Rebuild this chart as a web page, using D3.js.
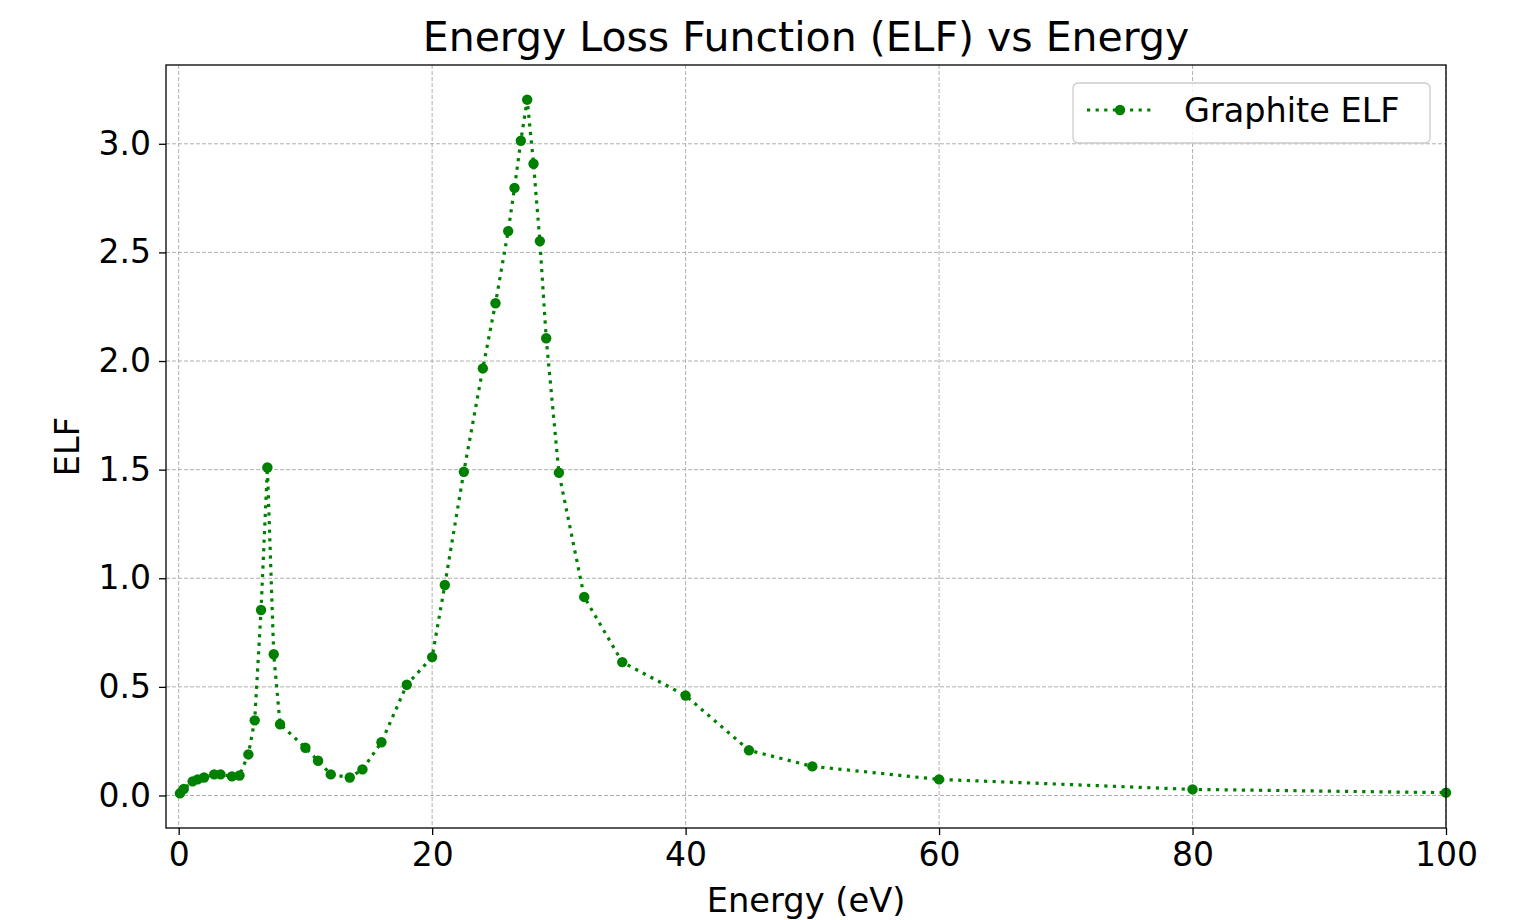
<!DOCTYPE html>
<html>
<head>
<meta charset="utf-8">
<script src="https://cdn.jsdelivr.net/npm/d3@7"></script>
<style>
  body { margin: 0; background: #fff; }
  svg { font-family: "DejaVu Sans", sans-serif; }
</style>
</head>
<body>
<svg id="chart" width="1536" height="920"></svg>
<script>
// energy in eV and loss function values
let energy = [0.1, 0.4, 1.1, 1.5, 2, 2.8, 3.3, 4.2, 4.8, 5.5, 6, 6.5, 7, 7.5, 8,
              10, 11, 12, 13.5, 14.5, 16, 18, 20, 21, 22.5, 24, 25, 26, 26.5, 27,
              27.5, 28, 28.5, 29, 30, 32, 35, 40, 45, 50, 60, 80, 100]
let elf = [0.01, 0.03, 0.065, 0.074, 0.083, 0.097, 0.097, 0.088, 0.092, 0.189, 0.346, 0.854, 1.51, 0.65, 0.328,
           0.22, 0.16, 0.097, 0.083, 0.12, 0.245, 0.51, 0.637, 0.969, 1.49, 1.966, 2.266, 2.598, 2.797, 3.014,
           3.203, 2.908, 2.552, 2.105, 1.486, 0.914, 0.614, 0.46, 0.208, 0.134, 0.074, 0.028, 0.013]
let xTicks = [0, 20, 40, 60, 80, 100]
let yTicks = [0, 0.5, 1.0, 1.5, 2.0, 2.5, 3.0]

let svg = d3.select("#chart")
let margin = {left: 166, right: 90, top: 65, bottom: 92}
let width = 1536 - margin.left - margin.right
let height = 920 - margin.top - margin.bottom
let green = "#008000"

let points = energy.map((e, i) => ({e: e, v: elf[i]}))

let x = d3.scaleLinear().domain([-1, 100]).range([0, width])
let yMin = d3.min(elf), yMax = d3.max(elf)
let pad = (yMax - yMin) * 0.05
let y = d3.scaleLinear().domain([yMin - pad, yMax + pad]).range([height, 0])

let g = svg.append("g").attr("transform", `translate(${margin.left},${margin.top})`)

// grid
g.append("g").selectAll("line")
    .data(xTicks)
    .enter()
    .append("line")
    .attr("x1", d => x(d)).attr("x2", d => x(d))
    .attr("y1", 0).attr("y2", height)
    .attr("stroke", "#b0b0b0").attr("stroke-width", 1).attr("stroke-dasharray", "4,2")
g.append("g").selectAll("line")
    .data(yTicks)
    .enter()
    .append("line")
    .attr("y1", d => y(d)).attr("y2", d => y(d))
    .attr("x1", 0).attr("x2", width)
    .attr("stroke", "#b0b0b0").attr("stroke-width", 1).attr("stroke-dasharray", "4,2")

// data line + markers
let line = d3.line().x(d => x(d.e)).y(d => y(d.v))
g.append("path")
    .datum(points)
    .attr("d", line)
    .attr("fill", "none")
    .attr("stroke", green)
    .attr("stroke-width", 3.2)
    .attr("stroke-dasharray", "3.2,5.4")

g.selectAll("circle.pt")
    .data(points)
    .enter()
    .append("circle")
    .attr("class", "pt")
    .attr("cx", d => x(d.e))
    .attr("cy", d => y(d.v))
    .attr("r", 5.2)
    .attr("fill", green)

// axes
let xAxis = d3.axisBottom(x).tickValues(xTicks).tickSize(7).tickPadding(8).tickFormat(d3.format("d"))
let yAxis = d3.axisLeft(y).tickValues(yTicks).tickSize(7).tickPadding(8).tickFormat(d3.format(".1f"))

let gx = g.append("g").attr("transform", `translate(0,${height})`).call(xAxis)
let gy = g.append("g").call(yAxis)
;[gx, gy].forEach(a => {
    a.select(".domain").remove()
    a.selectAll("text").attr("font-size", 33).attr("font-family", "DejaVu Sans").attr("fill", "#000")
    a.selectAll("line").attr("stroke", "#000").attr("stroke-width", 1.3)
})

// frame
g.append("rect")
    .attr("width", width).attr("height", height)
    .attr("fill", "none").attr("stroke", "#000").attr("stroke-width", 1.3)

// labels
svg.append("text")
    .attr("x", margin.left + width / 2).attr("y", 51)
    .attr("text-anchor", "middle").attr("font-size", 41)
    .text("Energy Loss Function (ELF) vs Energy")
svg.append("text")
    .attr("x", margin.left + width / 2).attr("y", 912)
    .attr("text-anchor", "middle").attr("font-size", 33.7)
    .text("Energy (eV)")
svg.append("text")
    .attr("transform", `translate(79,${margin.top + height / 2}) rotate(-90)`)
    .attr("text-anchor", "middle").attr("font-size", 33.7)
    .text("ELF")

// legend
let lg = svg.append("g").attr("transform", "translate(1073,83)")
lg.append("rect")
    .attr("width", 357).attr("height", 60).attr("rx", 5)
    .attr("fill", "#fff").attr("fill-opacity", 0.8)
    .attr("stroke", "#cccccc").attr("stroke-width", 1.3)
lg.append("line")
    .attr("x1", 14).attr("x2", 81).attr("y1", 27).attr("y2", 27)
    .attr("stroke", green).attr("stroke-width", 3.2).attr("stroke-dasharray", "3.2,5.4")
lg.append("circle").attr("cx", 47).attr("cy", 27).attr("r", 5.2).attr("fill", green)
lg.append("text").attr("x", 111).attr("y", 39).attr("font-size", 33.5).text("Graphite ELF")
</script>
</body>
</html>
